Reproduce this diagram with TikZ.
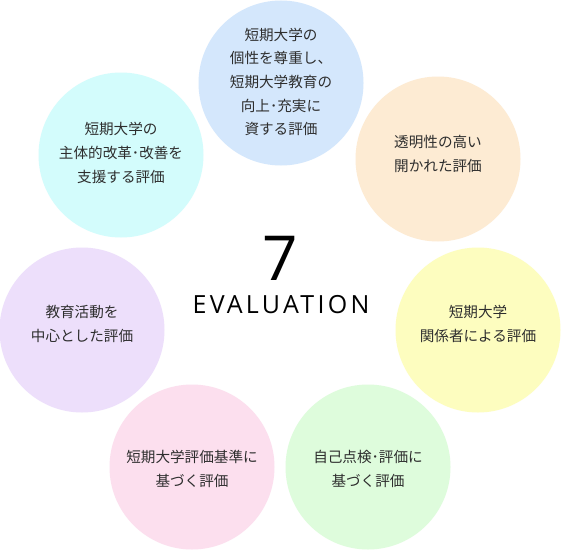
\documentclass[tikz,border=0pt]{standalone}
\usepackage{fontspec}
\newfontfamily\jpfont{Noto Sans CJK JP}
\newfontfamily\evfont[LetterSpace=13]{Open Sans}
\newfontfamily\numfont{Open Sans}
\definecolor{cblue}{HTML}{D4E7FC}
\definecolor{corange}{HTML}{FDEBD3}
\definecolor{cyellow}{HTML}{FDFDBF}
\definecolor{cgreen}{HTML}{DEFCDC}
\definecolor{cpink}{HTML}{FCDFEE}
\definecolor{cpurple}{HTML}{EDDFFB}
\definecolor{ccyan}{HTML}{D3FCFC}
\definecolor{jtext}{HTML}{2E2E2E}
\tikzset{
  bubble/.style={circle, minimum size=165pt, inner sep=0pt, draw=none},
  jlabel/.style={align=center, text=jtext, font=\jpfont\fontsize{14.6pt}{23.6pt}\selectfont, inner sep=0pt}
}
\begin{document}
\begin{tikzpicture}[x=1pt,y=-1pt]
\useasboundingbox (0,0) rectangle (561,551);
\fill[white] (0,0) rectangle (561,551);
\node[bubble, fill=cblue]   (c1) at (281,83) {};
\node[bubble, fill=corange] (c2) at (438,159) {};
\node[bubble, fill=cyellow] (c3) at (478,330) {};
\node[bubble, fill=cgreen]  (c4) at (368,467) {};
\node[bubble, fill=cpink]   (c5) at (192,467) {};
\node[bubble, fill=cpurple] (c6) at (82,330) {};
\node[bubble, fill=ccyan]   (c7) at (121,155) {};

\node[jlabel] (t1) at ([yshift=1pt]c1.center) {短期大学の\\個性を尊重し、\\短期大学教育の\\向上･充実に\\資する評価};
\node[jlabel] (t2) at ([yshift=5pt]c2.center) {透明性の高い\\開かれた評価};
\node[jlabel] (t3) at ([yshift=6pt]c3.center) {短期大学\\関係者による評価};
\node[jlabel] (t4) at ([yshift=-2pt]c4.center) {自己点検･評価に\\基づく評価};
\node[jlabel] (t5) at ([yshift=-2pt]c5.center) {短期大学評価基準に\\基づく評価};
\node[jlabel] (t6) at ([yshift=6pt]c6.center) {教育活動を\\中心とした評価};
\node[jlabel] (t7) at ([yshift=2pt]c7.center) {短期大学の\\主体的改革･改善を\\支援する評価};

\node[font=\numfont\fontsize{62pt}{62pt}\selectfont, inner sep=0pt] (num) at (280,258) {7};
\node[font=\evfont\fontsize{25pt}{25pt}\selectfont, inner sep=0pt] (ev) at (281,305) {EVALUATION};
\end{tikzpicture}
\end{document}
